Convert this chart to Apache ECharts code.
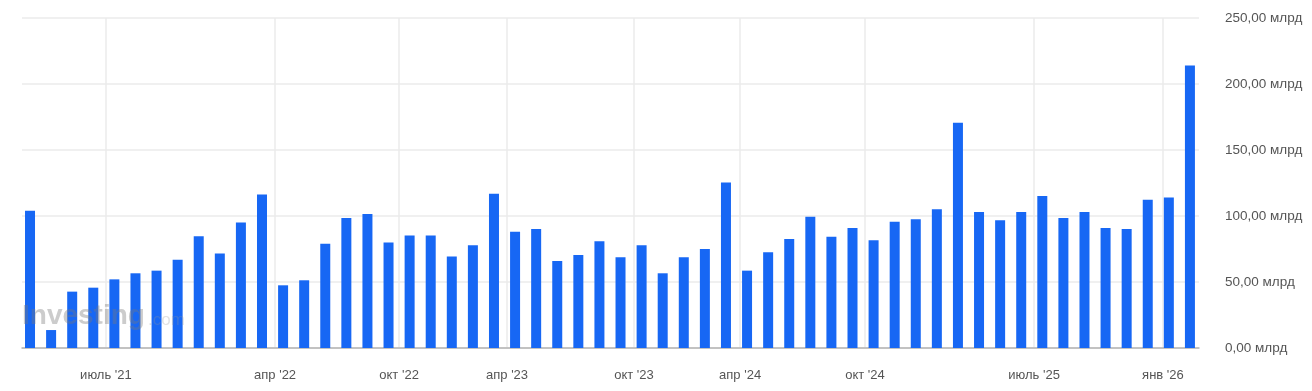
<!DOCTYPE html>
<html>
<head>
<meta charset="utf-8">
<script src="https://cdn.jsdelivr.net/npm/echarts@6/dist/echarts.min.js"></script>
<style>
html,body{margin:0;padding:0;background:#fff;}
#chart{width:1312px;height:391px;}
</style>
</head>
<body>
<div id="chart"></div>
<script>
// Values in billions (млрд), one per bar, in order
const values = [
  104.0, 13.6, 42.7, 45.7, 52.0, 56.6, 58.6, 66.9, 84.6, 71.5,
  95.0, 116.2, 47.5, 51.3, 79.0, 98.5, 101.5, 80.0, 85.3, 85.3,
  69.4, 77.8, 116.9, 88.1, 90.2, 65.9, 70.5, 80.8, 68.7, 77.8,
  56.6, 68.7, 75.0, 125.3, 58.6, 72.5, 82.6, 99.5, 84.3, 90.9,
  81.6, 95.7, 97.5, 105.1, 170.7, 103.0, 96.7, 103.0, 115.2, 98.5,
  103.0, 90.9, 90.2, 112.4, 114.1, 214.1
];
// Date tick labels and where they fall on the bar-index scale
const tickLabels = ["июль '21", "апр '22", "окт '22", "апр '23", "окт '23", "апр '24", "окт '24", "июль '25", "янв '26"];
const tickAt = [3.60, 11.62, 17.50, 22.62, 28.64, 33.67, 39.59, 47.61, 53.72];
const yTicks = [0, 50, 100, 150, 200, 250];

const FONT = "'Liberation Sans', Arial, sans-serif";
const chart = echarts.init(document.getElementById('chart'), null, {renderer: 'canvas'});

chart.setOption({
  animation: false,
  backgroundColor: '#ffffff',
  grid: {left: 22, right: 113, top: 18, bottom: 43, containLabel: false},
  xAxis: {
    type: 'value',
    min: -0.38,
    max: 55.43,
    axisLine: {show: true, lineStyle: {color: '#b3b3b3', width: 1.5}},
    axisTick: {show: false, customValues: tickAt},
    splitLine: {show: true, lineStyle: {color: '#ebebeb', width: 1.5}},
    axisLabel: {
      customValues: tickAt,
      formatter: function (v) {
        const k = tickAt.indexOf(v);
        return k >= 0 ? tickLabels[k] : '';
      },
      color: '#555',
      fontSize: 13,
      fontFamily: FONT,
      margin: 21
    }
  },
  yAxis: {
    type: 'value',
    position: 'right',
    min: yTicks[0],
    max: yTicks[yTicks.length - 1],
    interval: 50,
    axisLine: {show: false},
    axisTick: {show: false},
    splitLine: {show: true, lineStyle: {color: '#ebebeb', width: 1.5}},
    axisLabel: {
      formatter: function (v) { return v.toFixed(2).replace('.', ',') + ' млрд'; },
      color: '#555',
      fontSize: 13.5,
      fontFamily: FONT,
      margin: 26
    }
  },
  graphic: [
    {type: 'text', left: 22, top: 302, z: 10, silent: true,
     style: {text: 'Investing', fontSize: 28, fontWeight: 'bold', fontFamily: FONT, fill: 'rgba(120,120,120,0.38)'}},
    {type: 'text', left: 148, top: 312, z: 10, silent: true,
     style: {text: '.com', fontSize: 17, fontFamily: FONT, fill: 'rgba(150,150,150,0.28)'}}
  ],
  series: [{
    type: 'bar',
    data: values.map(function (v, i) { return [i, v]; }),
    barWidth: 10,
    itemStyle: {color: '#1767f4'},
    z: 2
  }]
});
</script>
</body>
</html>
